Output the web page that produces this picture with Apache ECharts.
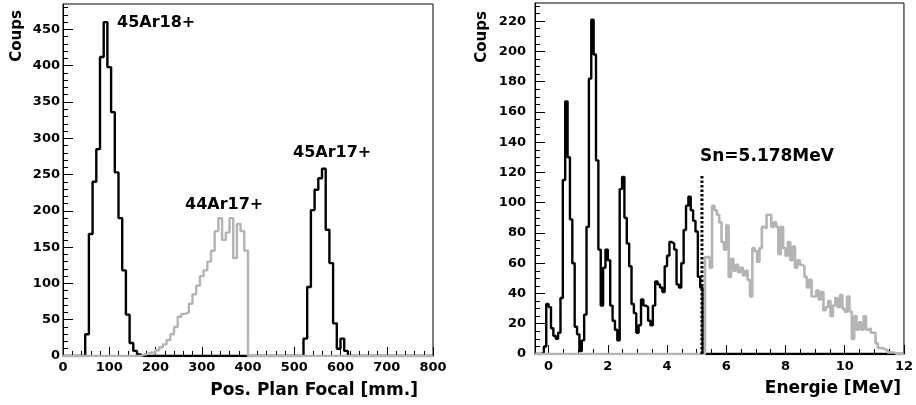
<!DOCTYPE html>
<html><head><meta charset="utf-8">
<script src="https://cdn.jsdelivr.net/npm/echarts@6.0.0/dist/echarts.min.js"></script>
<style>html,body{margin:0;padding:0;background:#fff}#c{width:916px;height:405px}</style>
</head><body><div id="c"></div>
<script>
// ---------- Left panel: focal-plane position (mm), 8 mm bins ----------
const posBinWidth = 8;
const ar18Start = 48;
const ar18Counts = [30,168,240,285,412,460,398,336,253,190,118,57,18,7,2];
const ar17Start = 520;
const ar17Counts = [24,95,201,229,245,258,174,128,45,10,24,7];
const ar44Start = 168;
const ar44Counts = [2,3,5,4,8,12,16,22,30,40,54,58,60,72,85,97,110,118,130,145,172,190,160,170,190,135,182,172,145];

// ---------- Right panel: excitation energy (MeV), 0.08 MeV bins ----------
const eBinWidth = 0.08;
const belowSnStart = -0.48;
const belowSnCounts = [0,0,0,1,5,33,31,17,12,10,14,37,115,167,130,89,60,18,13,2,9,26,84,182,221,198,
  128,69,32,57,69,62,32,22,16,9,109,117,90,73,58,33,27,14,19,36,32,31,22,19,32,48,46,44,41,58,65,74,73,69,46,44,60,82,98,104,95,88,81,51,44];
const aboveSnStart = 5.20;
const aboveSnCounts = [0,64,64,57,98,95,92,87,74,69,85,51,63,55,59,54,57,52,55,49,38,70,68,61,70,84,83,92,92,84,87,84,66,84,70,65,74,62,71,57,62,59,58,51,44,49,38,38,42,36,41,29,31,35,25,32,37,31,39,30,28,38,28,10,25,16,21,16,25,16,17,14,14,7,4,4,3,3,1,1,1];
const snEnergy = 5.178;
const snLineTop = 119;

// ---------- Tick labels ----------
const leftXTicks = [0,100,200,300,400,500,600,700,800];
const leftYTicks = [0,50,100,150,200,250,300,350,400,450];
const rightXTicks = [0,2,4,6,8,10,12];
const rightYTicks = [0,20,40,60,80,100,120,140,160,180,200,220];

function range(a, b, s){ const r=[]; for(let v=a; v<=b+1e-9; v+=s) r.push(+v.toFixed(4)); return r; }
const leftXMinor = range(0,800,20);
const leftYMinor = range(0,480,10);
const rightXMinor = range(0,12,0.5);
const rightYMinor = range(0,230,5);

function histPoints(segments, lo, hi, width){
  const n = Math.round((hi-lo)/width);
  const vals = new Array(n).fill(0);
  segments.forEach(([start, counts]) => {
    const off = Math.round((start-lo)/width);
    counts.forEach((c,i)=>{ if(off+i>=0 && off+i<n) vals[off+i]=c; });
  });
  const pts = vals.map((v,i)=>[+(lo+i*width).toFixed(4), v]);
  pts.push([+(lo+n*width).toFixed(4), 0]);
  return pts;
}

const FONT = 'DejaVu Sans';
function majorX(grid, min, max, ticks, margin){
  return {type:'value', gridIndex:grid, min, max, position:'bottom',
    axisLine:{show:true, onZero:false, lineStyle:{color:'#000', width:1}},
    axisTick:{show:true, inside:true, length:9, customValues:ticks, lineStyle:{color:'#000', width:1}},
    axisLabel:{show:true, customValues:ticks, margin, color:'#000', fontFamily:FONT, fontWeight:'bold', fontSize:13},
    splitLine:{show:false}};
}
function minorX(grid, min, max, ticks){
  return {type:'value', gridIndex:grid, min, max, position:'bottom',
    axisLine:{show:false, onZero:false},
    axisTick:{show:true, inside:true, length:5, customValues:ticks, lineStyle:{color:'#000', width:1}},
    axisLabel:{show:false}, splitLine:{show:false}};
}
function majorY(grid, min, max, ticks, margin){
  return {type:'value', gridIndex:grid, min, max, position:'left',
    axisLine:{show:true, onZero:false, lineStyle:{color:'#000', width:1}},
    axisTick:{show:true, inside:true, length:10, customValues:ticks, lineStyle:{color:'#000', width:1}},
    axisLabel:{show:true, customValues:ticks, margin, color:'#000', fontFamily:FONT, fontWeight:'bold', fontSize:13},
    splitLine:{show:false}};
}
function minorY(grid, min, max, ticks){
  return {type:'value', gridIndex:grid, min, max, position:'left',
    axisLine:{show:false, onZero:false},
    axisTick:{show:true, inside:true, length:5, customValues:ticks, lineStyle:{color:'#000', width:1}},
    axisLabel:{show:false}, splitLine:{show:false}};
}
function hist(xi, yi, data, color, width, z){
  return {type:'line', xAxisIndex:xi, yAxisIndex:yi, data, step:'end', symbol:'none', showSymbol:false,
    lineStyle:{color, width}, z, animation:false, silent:true};
}
function txt(x, y, text, size, align, rot){
  return {type:'text', x, y, rotation: rot||0, z:10,
    style:{text, fill:'#000', font:'bold '+size+'px "'+FONT+'"', textAlign:align, align:align, textVerticalAlign:'middle', verticalAlign:'middle'}};
}

const chart = echarts.init(document.getElementById('c'), null, {renderer:'canvas'});
chart.setOption({
  animation:false,
  backgroundColor:'#fff',
  grid:[
    {left:63, top:4, width:370, height:352, show:true, borderColor:'#000', borderWidth:1, backgroundColor:'#fff'},
    {left:535, top:3, width:371, height:351, show:true, borderColor:'#000', borderWidth:1, backgroundColor:'#fff'}
  ],
  xAxis:[
    majorX(0, 0, 800, leftXTicks, 5),
    minorX(0, 0, 800, leftXMinor),
    majorX(1, -0.46, 12, rightXTicks, 6),
    minorX(1, -0.46, 12, rightXMinor)
  ],
  yAxis:[
    majorY(0, 0, 485, leftYTicks, 3),
    minorY(0, 0, 485, leftYMinor),
    majorY(1, 0, 232, rightYTicks, 9),
    minorY(1, 0, 232, rightYMinor)
  ],
  series:[
    hist(0, 0, histPoints([[ar18Start, ar18Counts],[ar17Start, ar17Counts]], 0, 800, posBinWidth), '#000', 2.4, 2),
    hist(0, 0, histPoints([[ar44Start, ar44Counts]], 0, 800, posBinWidth), '#b4b4b4', 2.4, 3),
    hist(2, 2, histPoints([[belowSnStart, belowSnCounts]], -0.48, 12, eBinWidth), '#000', 2.4, 2),
    hist(2, 2, histPoints([[aboveSnStart, aboveSnCounts]], -0.48, 12, eBinWidth), '#b4b4b4', 2.6, 3),
    {type:'line', xAxisIndex:2, yAxisIndex:2, data:[[snEnergy,0],[snEnergy,snLineTop]], symbol:'none',
     lineStyle:{color:'#000', width:3, type:[2.5,2]}, z:4, animation:false, silent:true}
  ],
  graphic:[
    txt(17, 36, 'Coups', 15, 'center', Math.PI/2),
    txt(482, 37, 'Coups', 15, 'center', Math.PI/2),
    txt(418, 391, 'Pos. Plan Focal [mm.]', 17, 'right'),
    txt(901, 389, 'Energie [MeV]', 17, 'right'),
    txt(117, 23, '45Ar18+', 16, 'left'),
    txt(293, 153, '45Ar17+', 16, 'left'),
    txt(185, 205, '44Ar17+', 16, 'left'),
    txt(700, 157, 'Sn=5.178MeV', 17, 'left')
  ]
});
</script></body></html>
